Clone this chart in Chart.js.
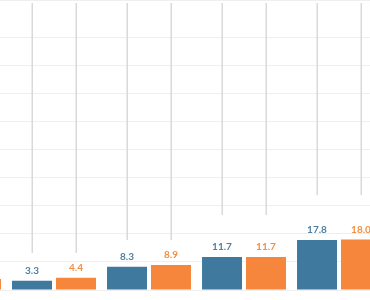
<!DOCTYPE html>
<html lang="en">
  <head>
    <meta charset="UTF-8" />
    <title>Bars</title>
    <style>
      body { margin: 0; padding: 0; background: #fff; overflow: hidden; }
      .chart-container { width: 370px; height: 300px; }
    </style>
  </head>
  <body>
    <div class="chart-container">
      <canvas id="barChart" width="370" height="300"></canvas>
    </div>

    <script src="https://cdn.jsdelivr.net/npm/chart.js"></script>
    <script>
        // group positions on the x axis (group 0 is mostly cut off on the left)
        const groups = [0, 1, 2, 3, 4];
        const blueValues = [2.5, 3.3, 8.3, 11.7, 17.8];
        const orangeValues = [3.9, 4.4, 8.9, 11.7, 18.0];
        // where the grey vertical lines stop, per group
        const lineEnds = [10.0, 13.2, 17.8, 26.7, 33.8];

        const blue = '#3f7a9e';
        const orange = '#f6863b';

        // grey lines from the top of the plot down over each bar
        const stemLines = {
            id: 'stemLines',
            beforeDatasetsDraw(chart) {
                const ctx = chart.ctx;
                const y = chart.scales.y;
                const area = chart.chartArea;
                ctx.save();
                ctx.beginPath();
                ctx.rect(area.left, area.top, area.right - area.left, area.bottom - area.top);
                ctx.clip();
                ctx.strokeStyle = '#d9d9d9';
                ctx.lineWidth = 1.5;
                chart.data.datasets.forEach((ds, i) => {
                    chart.getDatasetMeta(i).data.forEach((bar, j) => {
                        ctx.beginPath();
                        ctx.moveTo(Math.round(bar.x) + 0.25, y.getPixelForValue(y.max) + 3);
                        ctx.lineTo(Math.round(bar.x) + 0.25, y.getPixelForValue(lineEnds[j]));
                        ctx.stroke();
                    });
                });
                ctx.restore();
            }
        };

        // value labels above bars
        const valueLabels = {
            id: 'valueLabels',
            afterDatasetsDraw(chart) {
                const ctx = chart.ctx;
                ctx.save();
                ctx.font = 'bold 10px Lato, sans-serif';
                ctx.textAlign = 'center';
                ctx.textBaseline = 'middle';
                chart.data.datasets.forEach((ds, i) => {
                    ctx.fillStyle = ds.labelColor;
                    chart.getDatasetMeta(i).data.forEach((bar, j) => {
                        ctx.fillText(ds.data[j].y.toFixed(1), bar.x, bar.y - 10);
                    });
                });
                ctx.restore();
            }
        };

        const ctx = document.getElementById('barChart').getContext('2d');
        new Chart(ctx, {
            type: 'bar',
            data: {
                datasets: [{
                    data: groups.map((g, i) => ({ x: g, y: blueValues[i] })),
                    backgroundColor: blue,
                    labelColor: '#4f80a3',
                    categoryPercentage: 0.926,
                    barPercentage: 0.909
                }, {
                    data: groups.map((g, i) => ({ x: g, y: orangeValues[i] })),
                    backgroundColor: orange,
                    labelColor: '#f48e42',
                    categoryPercentage: 0.926,
                    barPercentage: 0.909
                }]
            },
            options: {
                animation: false,
                responsive: false,
                maintainAspectRatio: false,
                layout: { padding: { top: 0, bottom: 10, left: 0, right: 0 } },
                plugins: { legend: { display: false }, tooltip: { enabled: false } },
                scales: {
                    x: {
                        type: 'linear',
                        offset: false,
                        min: 0.4316,
                        max: 4.3263,
                        ticks: { stepSize: 1 },
                        display: false
                    },
                    y: {
                        min: 0,
                        max: 103.2,
                        ticks: { display: false, stepSize: 10 },
                        grid: { color: '#efefef', drawTicks: false },
                        border: { display: false }
                    }
                }
            },
            plugins: [stemLines, valueLabels]
        });
    </script>
  </body>
</html>
